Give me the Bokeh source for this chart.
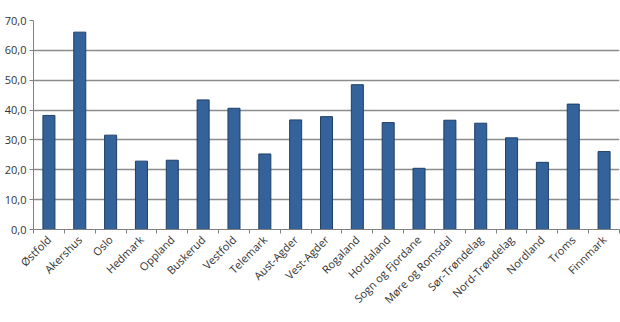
import math
from bokeh.plotting import figure
from bokeh.models import FixedTicker, Range1d, ColumnDataSource
from bokeh.embed import file_html
from bokeh.resources import INLINE

counties = ["Østfold", "Akershus", "Oslo", "Hedmark", "Oppland", "Buskerud", "Vestfold",
            "Telemark", "Aust-Agder", "Vest-Agder", "Rogaland", "Hordaland",
            "Sogn og Fjordane", "Møre og Romsdal", "Sør-Trøndelag", "Nord-Trøndelag",
            "Nordland", "Troms", "Finnmark"]
values = [38.2, 66.1, 31.6, 22.9, 23.2, 43.4, 40.6, 25.3, 36.7, 37.8, 48.5, 35.8,
          20.5, 36.6, 35.6, 30.7, 22.5, 42.0, 26.1]
y_ticks = [0, 10, 20, 30, 40, 50, 60, 70]

n = len(counties)
centers = [i + 0.5 for i in range(n)]
bounds = list(range(n + 1))

src = ColumnDataSource(dict(x=centers, top=values, name=counties))

p = figure(width=620, height=322, output_backend="svg", toolbar_location=None,
           x_range=Range1d(0, n), y_range=Range1d(0, 70),
           min_border_left=33, min_border_right=1, min_border_top=20, min_border_bottom=93)
p.outline_line_color = None
p.background_fill_color = "white"
p.border_fill_color = "white"

p.vbar(x="x", top="top", width=0.39, source=src,
       fill_color="#34639b", line_color="#1f3f66", line_width=1)

font = "Open Sans"
# x axis
p.xaxis.ticker = FixedTicker(ticks=centers, minor_ticks=bounds)
p.xaxis.major_label_overrides = {c: name for c, name in zip(centers, counties)}
p.xaxis.major_label_orientation = math.pi / 4
p.xaxis.major_tick_line_color = None
p.xaxis.minor_tick_in = 0
p.xaxis.minor_tick_out = 4
p.xaxis.minor_tick_line_color = "#808080"
p.xaxis.axis_line_color = "#808080"
p.xaxis.major_label_text_font = font
p.xaxis.major_label_text_font_size = "11px"
p.xaxis.major_label_text_color = "#333333"
p.xaxis.major_label_standoff = 2

# y axis
p.yaxis.ticker = FixedTicker(ticks=y_ticks, minor_ticks=[])
p.yaxis.major_label_overrides = {t: f"{t:.1f}".replace(".", ",") for t in y_ticks}
p.yaxis.major_tick_in = 0
p.yaxis.major_tick_out = 4
p.yaxis.major_tick_line_color = "#808080"
p.yaxis.axis_line_color = "#808080"
p.yaxis.major_label_text_font = font
p.yaxis.major_label_text_font_size = "11px"
p.yaxis.major_label_text_color = "#333333"
p.yaxis.major_label_standoff = 3

p.xgrid.grid_line_color = None
p.ygrid.grid_line_color = "#8c8c8c"
p.ygrid.grid_line_width = 1.5

open("out.html", "w").write(file_html(p, INLINE))
